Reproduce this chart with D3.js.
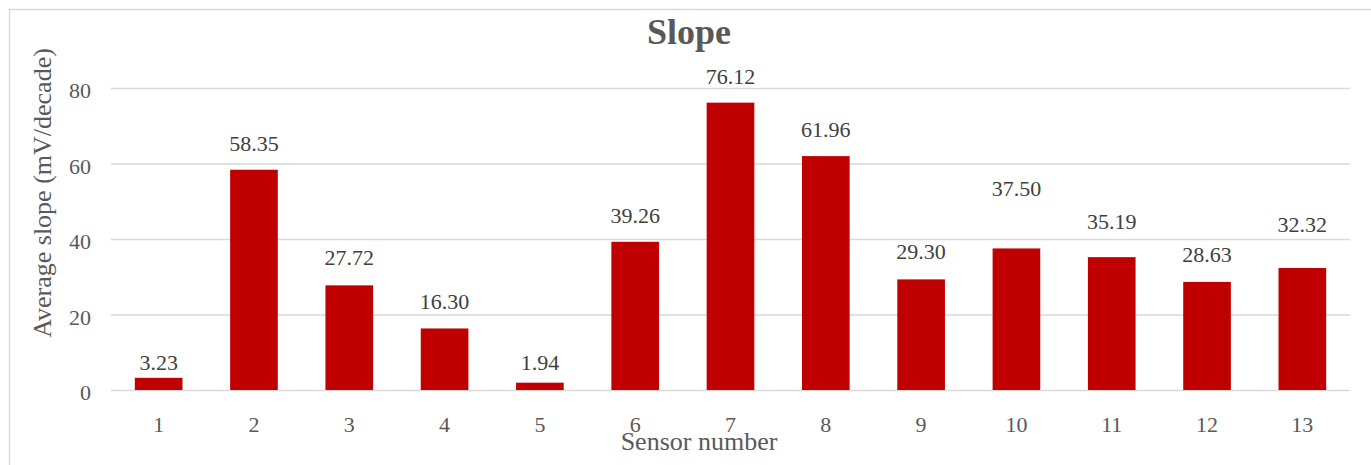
<!DOCTYPE html>
<html>
<head>
<meta charset="utf-8">
<script src="https://cdn.jsdelivr.net/npm/d3@7"></script>
<style>
  html, body { margin: 0; padding: 0; background: #fff; }
  svg text { font-family: "Liberation Serif", "Times New Roman", serif !important; }
</style>
</head>
<body>
<div id="chart"></div>
<script>
// data
const sensors = ['1', '2', '3', '4', '5', '6', '7', '8', '9', '10', '11', '12', '13'];
const slopes = [3.23, 58.35, 27.72, 16.30, 1.94, 39.26, 76.12, 61.96, 29.30, 37.50, 35.19, 28.63, 32.32];
const yTicks = [0, 20, 40, 60, 80];

// labels in the original were nudged by hand (extra px lift above the default gap)
const labelNudge = [-11, 0, 1, 0, -6, 0, 0, 0, 1, 33, 9, 1, 17];

const width = 1371;
const height = 465;
const margin = { left: 111, top: 88, right: 21, bottom: 75 };

const svg = d3.select('#chart')
	.append('svg')
	.attr('width', width)
	.attr('height', height)
	.style('display', 'block');

// outer chart border (only top and left visible in the frame)
svg.append('rect')
	.attr('x', 9.5)
	.attr('y', 9.5)
	.attr('width', width + 20)
	.attr('height', height + 20)
	.attr('fill', 'none')
	.attr('stroke', '#d9d9d9')
	.attr('stroke-width', 1.5);

let x = d3.scaleBand()
	.domain(sensors)
	.range([margin.left, width - margin.right])
	.paddingInner(0.5)
	.paddingOuter(0.25);

let y = d3.scaleLinear()
	.domain([0, 80])
	.range([height - margin.bottom, margin.top]);

// gridlines + y labels
let yAxis = svg.append('g')
	.attr('class', 'yaxis')
	.attr('transform', `translate(${margin.left},0)`)
	.call(
		d3.axisLeft(y)
			.tickValues(yTicks)
			.tickSizeInner(-(width - margin.left - margin.right))
			.tickSizeOuter(0)
			.tickPadding(20)
	);

yAxis.select('.domain').remove();
yAxis.selectAll('line')
	.attr('stroke', '#d9d9d9')
	.attr('stroke-width', 1.5);
yAxis.selectAll('text')
	.attr('fill', '#595959')
	.attr('font-size', '22px')
	.attr('dy', '0.45em');

// x labels
let xAxis = svg.append('g')
	.attr('class', 'xaxis')
	.attr('transform', `translate(0,${height - margin.bottom})`)
	.call(d3.axisBottom(x).tickSize(0).tickPadding(26));

xAxis.select('.domain').remove();
xAxis.selectAll('text')
	.attr('fill', '#595959')
	.attr('font-size', '22px');

// bars
svg.append('g')
	.selectAll('rect')
	.data(slopes)
	.enter()
	.append('rect')
	.attr('x', (d, i) => x(sensors[i]))
	.attr('width', x.bandwidth())
	.attr('y', d => y(d))
	.attr('height', d => y(0) - y(d))
	.attr('fill', '#c00000');

// value labels
svg.append('g')
	.selectAll('text')
	.data(slopes)
	.enter()
	.append('text')
	.attr('x', (d, i) => x(sensors[i]) + x.bandwidth() / 2)
	.attr('y', (d, i) => y(d) - 19 - labelNudge[i])
	.attr('text-anchor', 'middle')
	.attr('fill', '#404040')
	.attr('font-size', '22px')
	.text(d => d.toFixed(2));

// title
svg.append('text')
	.attr('x', 689)
	.attr('y', 44)
	.attr('text-anchor', 'middle')
	.attr('font-weight', 'bold')
	.attr('font-size', '36px')
	.attr('fill', '#595959')
	.text('Slope');

// axis titles
svg.append('text')
	.attr('x', 699)
	.attr('y', 450)
	.attr('text-anchor', 'middle')
	.attr('font-size', '26px')
	.attr('fill', '#595959')
	.text('Sensor number');

svg.append('text')
	.attr('transform', 'translate(51,193) rotate(-90)')
	.attr('text-anchor', 'middle')
	.attr('font-size', '26px')
	.attr('fill', '#595959')
	.text('Average slope (mV/decade)');
</script>
</body>
</html>
